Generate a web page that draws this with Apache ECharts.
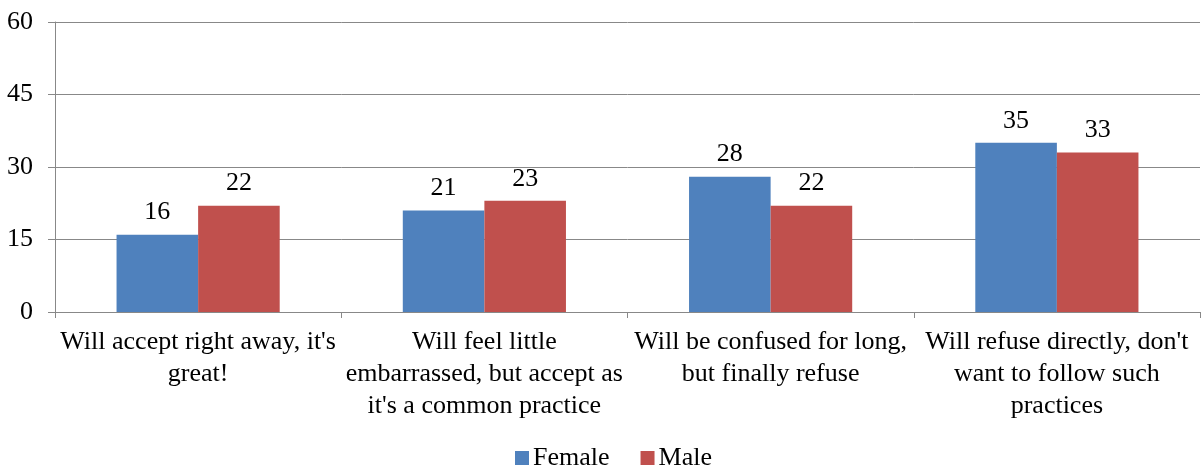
<!DOCTYPE html>
<html>
<head>
<meta charset="utf-8">
<script src="https://cdn.jsdelivr.net/npm/echarts@6/dist/echarts.min.js"></script>
<style>
  html, body { margin: 0; padding: 0; background: #fff; }
  #chart { width: 1202px; height: 470px; }
</style>
</head>
<body>
<div id="chart"></div>
<script>
// Category labels, already broken into lines as they are printed under the axis
const categories = [
  "Will accept right away, it's\ngreat!",
  "Will feel little\nembarrassed, but accept as\nit's a common practice",
  "Will be confused for long,\nbut finally refuse",
  "Will refuse directly, don't\nwant to follow such\npractices"
];
const female = [16, 21, 28, 35];
const male = [22, 23, 22, 33];
const yTicks = { min: 0, max: 60, interval: 15 };

const FONT = '"Liberation Serif", "Times New Roman", serif';
const chart = echarts.init(document.getElementById('chart'));

const valueLabel = {
  show: true,
  position: 'top',
  distance: 9,
  color: '#000',
  fontFamily: FONT,
  fontSize: 26
};

chart.setOption({
  animation: false,
  textStyle: { fontFamily: FONT },
  grid: { left: 55, right: 2, top: 22, bottom: 158, containLabel: false },
  legend: {
    top: 445,
    left: 515,
    padding: 0,
    itemWidth: 14,
    itemHeight: 14,
    itemGap: 31,
    icon: 'rect',
    textStyle: { fontFamily: FONT, fontSize: 26, color: '#000', padding: [0, 0, 0, -1] },
    data: ['Female', 'Male']
  },
  xAxis: {
    type: 'category',
    data: categories,
    axisLine: { lineStyle: { color: '#888', width: 1 } },
    axisTick: { show: true, alignWithLabel: false, length: 6, lineStyle: { color: '#888' } },
    axisLabel: {
      interval: 0,
      color: '#000',
      fontFamily: FONT,
      fontSize: 26,
      lineHeight: 32,
      margin: 14,
      align: 'center'
    },
    splitLine: { show: false }
  },
  yAxis: {
    type: 'value',
    min: yTicks.min,
    max: yTicks.max,
    interval: yTicks.interval,
    axisLine: { show: true, lineStyle: { color: '#888', width: 1 } },
    axisTick: { show: true, length: 7, lineStyle: { color: '#888' } },
    axisLabel: { color: '#000', fontFamily: FONT, fontSize: 26, margin: 22 },
    splitLine: { show: true, lineStyle: { color: '#888', width: 1 } }
  },
  series: [
    {
      name: 'Female',
      type: 'bar',
      data: female,
      barGap: '0%',
      barCategoryGap: '43%',
      itemStyle: { color: '#4F81BD' },
      label: valueLabel
    },
    {
      name: 'Male',
      type: 'bar',
      data: male,
      itemStyle: { color: '#C0504D' },
      label: valueLabel
    }
  ]
});
</script>
</body>
</html>
